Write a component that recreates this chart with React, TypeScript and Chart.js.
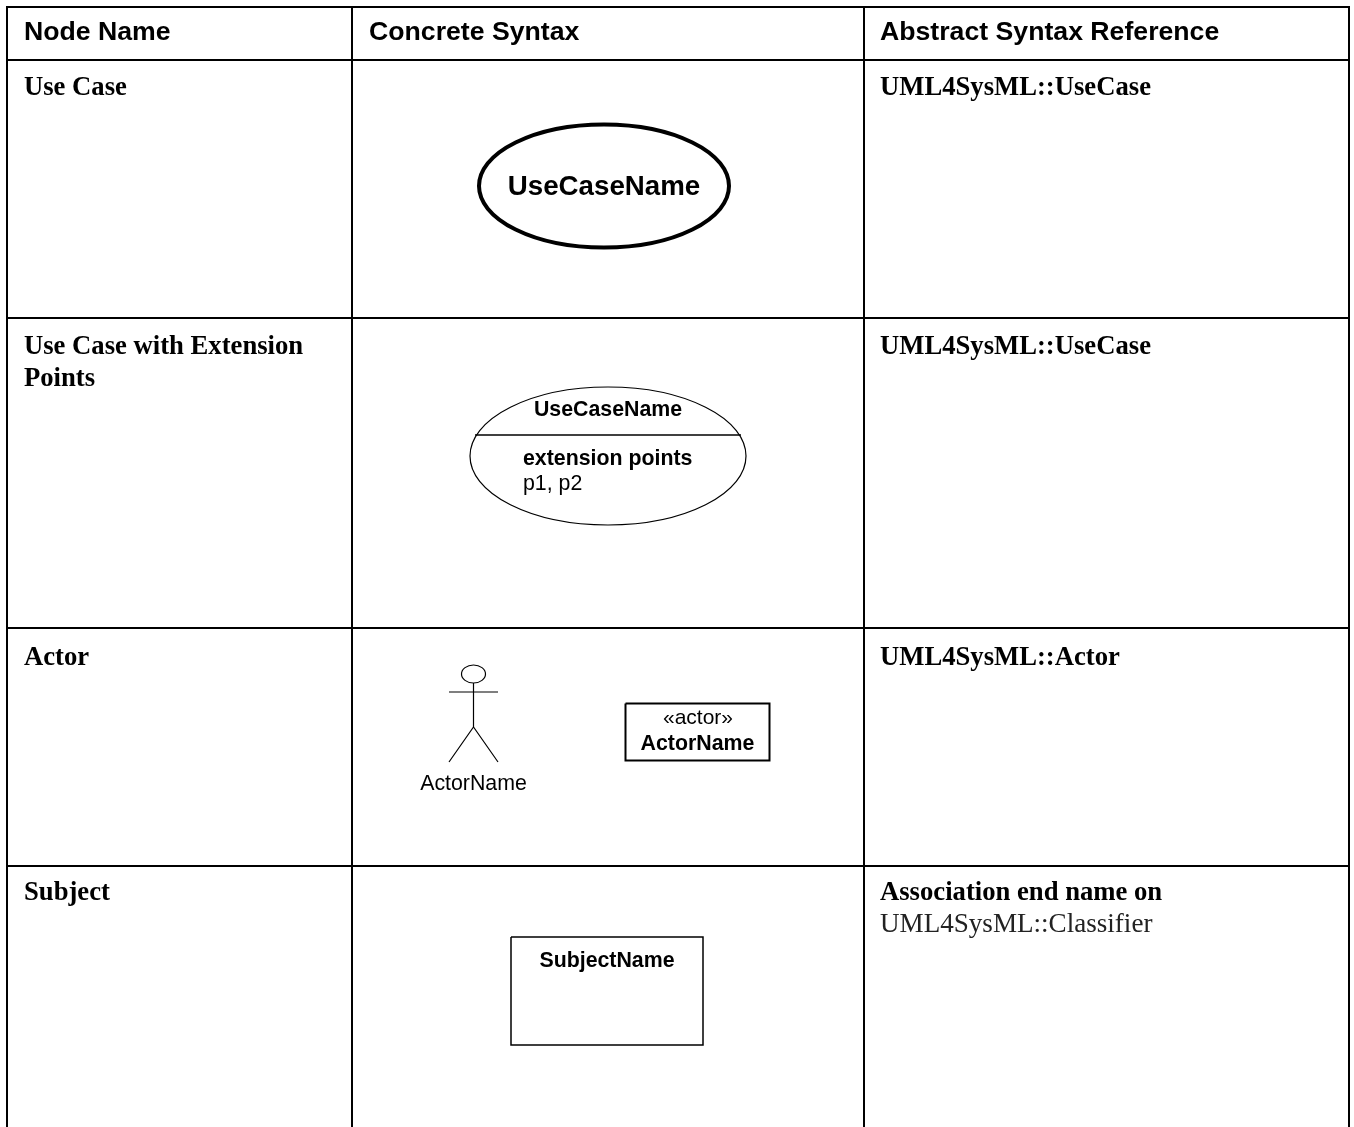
import React, { useEffect, useRef } from "react";
import { Chart, registerables } from "chart.js";

Chart.register(...registerables);

const SANS = '"Liberation Sans"';
const SERIF = '"Liberation Serif"';

// polylines in picture units
const gridVertical = [7, 352, 864, 1349];
const gridHorizontal = [7, 60, 318, 628, 866];
const gridBottom = 1127;

const actorArms = [[449, 692], [498, 692]];
const actorBody = [[473.5, 683], [473.5, 727]];
const actorLegs = [[449, 762], [473.5, 727], [498, 762]];
const actorBox = [[625.5, 703.5], [769.5, 703.5], [769.5, 760.5], [625.5, 760.5], [625.5, 703.5]];
const subjectBox = [[511, 937], [703, 937], [703, 1045], [511, 1045], [511, 937]];
const extensionDivider = [[475, 435], [741, 435]];

// cx, cy, rx, ry, stroke
const ellipses = [
  [604, 186, 125, 61.5, 4],
  [608, 456, 138, 69, 1.2],
  [473.5, 674, 12, 9, 1.2],
];

// text, x, baseline, size, bold, family, align, colour
const labels: [string, number, number, number, boolean, string, CanvasTextAlign, string][] = [
  ["Node Name", 24, 40, 26.67, true, SANS, "left", "#000"],
  ["Concrete Syntax", 369, 40, 26.67, true, SANS, "left", "#000"],
  ["Abstract Syntax Reference", 880, 40, 26.67, true, SANS, "left", "#000"],
  ["Use Case", 24, 95, 26.67, true, SERIF, "left", "#000"],
  ["UML4SysML::UseCase", 880, 95, 26.67, true, SERIF, "left", "#000"],
  ["UseCaseName", 604, 195, 27.7, true, SANS, "center", "#000"],
  ["Use Case with Extension", 24, 354, 26.67, true, SERIF, "left", "#000"],
  ["Points", 24, 386, 26.67, true, SERIF, "left", "#000"],
  ["UML4SysML::UseCase", 880, 354, 26.67, true, SERIF, "left", "#000"],
  ["UseCaseName", 608, 416, 21.33, true, SANS, "center", "#000"],
  ["extension points", 523, 465, 21.33, true, SANS, "left", "#000"],
  ["p1, p2", 523, 490, 21.33, false, SANS, "left", "#000"],
  ["Actor", 24, 665, 26.67, true, SERIF, "left", "#000"],
  ["UML4SysML::Actor", 880, 665, 26.67, true, SERIF, "left", "#000"],
  ["ActorName", 473.5, 790, 21.33, false, SANS, "center", "#000"],
  ["«actor»", 698, 724, 21, false, SANS, "center", "#000"],
  ["ActorName", 697.5, 750, 21.33, true, SANS, "center", "#000"],
  ["Subject", 24, 900, 26.67, true, SERIF, "left", "#000"],
  ["SubjectName", 607, 967, 21.33, true, SANS, "center", "#000"],
  ["Association end name on", 880, 900, 26.67, true, SERIF, "left", "#000"],
  ["UML4SysML::Classifier", 880, 932, 27.1, false, SERIF, "left", "#222"],
];

const toPoints = (pts: number[][]) => pts.map(([x, y]) => ({ x, y }));
const line = (pts: number[][], borderWidth: number) => ({
  data: toPoints(pts),
  showLine: true,
  borderColor: "#000",
  borderWidth,
  pointRadius: 0,
  fill: false,
  tension: 0,
});

const diagramPlugin = {
  id: "diagram",
  afterDatasetsDraw(chart: any) {
    const { ctx, scales } = chart;
    const sx = scales.x;
    const sy = scales.y;
    ctx.save();
    ctx.strokeStyle = "#000";
    for (const [cx, cy, rx, ry, w] of ellipses) {
      const px = sx.getPixelForValue(cx);
      const py = sy.getPixelForValue(cy);
      ctx.lineWidth = w;
      ctx.beginPath();
      ctx.ellipse(px, py, Math.abs(sx.getPixelForValue(cx + rx) - px), Math.abs(sy.getPixelForValue(cy + ry) - py), 0, 0, Math.PI * 2);
      ctx.stroke();
    }
    ctx.textBaseline = "alphabetic";
    for (const [text, x, y, size, bold, family, align, colour] of labels) {
      ctx.font = `${bold ? "bold " : ""}${size}px ${family}`;
      ctx.textAlign = align;
      ctx.fillStyle = colour;
      ctx.fillText(text, sx.getPixelForValue(x), sy.getPixelForValue(y));
    }
    ctx.restore();
  },
};

export default function App() {
  const ref = useRef<HTMLCanvasElement>(null);
  useEffect(() => {
    const datasets: any[] = [
      ...gridVertical.map((x) => line([[x, gridHorizontal[0] - 1], [x, gridBottom]], 2)),
      ...gridHorizontal.map((y) => line([[gridVertical[0], y], [gridVertical[gridVertical.length - 1], y]], 2)),
      line(actorArms, 1.2),
      line(actorBody, 1.2),
      line(actorLegs, 1.2),
      line(actorBox, 2),
      line(subjectBox, 1.5),
      line(extensionDivider, 1.3),
    ];
    const chart = new Chart(ref.current as HTMLCanvasElement, {
      type: "scatter",
      data: { datasets },
      options: {
        animation: false,
        responsive: false,
        layout: { padding: 0 },
        plugins: { legend: { display: false }, tooltip: { enabled: false }, title: { display: false } },
        scales: {
          x: { type: "linear", min: 0, max: 1354, display: false },
          y: { type: "linear", min: 0, max: 1127, reverse: true, display: false },
        },
      },
      plugins: [diagramPlugin],
    } as any);
    return () => chart.destroy();
  }, []);
  return (
    <div style={{ position: "absolute", left: 0, top: 0, width: 1354, height: 1127, background: "#fff" }}>
      <canvas ref={ref} width={1354} height={1127} style={{ display: "block" }} />
    </div>
  );
}
